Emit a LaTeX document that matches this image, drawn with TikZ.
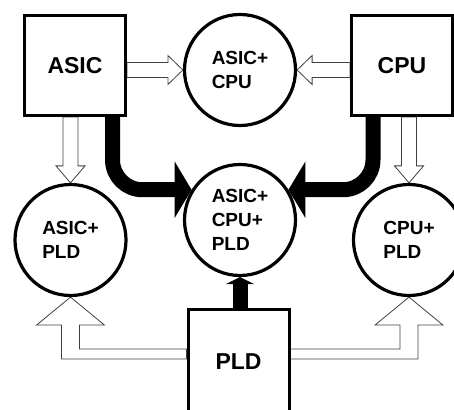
\documentclass[tikz,border=0pt]{standalone}
\usepackage{fontspec}
\setsansfont{Liberation Sans}
\usepackage{tikz}
\usetikzlibrary{arrows.meta,calc,backgrounds}
\tikzset{
  unitbox/.style={draw=black,line width=3pt,fill=white,minimum width=101pt,minimum height=100pt,inner sep=0pt,font=\sffamily\bfseries\fontsize{23}{26}\selectfont},
  combo/.style={circle,draw=black,line width=3.2pt,fill=white,minimum size=111pt,inner sep=0pt,align=left,font=\sffamily\bfseries\fontsize{19}{24}\selectfont},
  hollow/.style={draw=black!75,fill=white,line width=.8pt,line join=miter},
  merge/.style={line width=15pt,rounded corners=30pt,-{Triangle[length=17pt,width=56pt]}},
}

\begin{document}
\begin{tikzpicture}[x=1pt,y=1pt]
  \useasboundingbox (0,0) rectangle (454,409);
  \clip (0,0) rectangle (454,409);
  % single parts
  \node[unitbox] (asic) at (75,343.5) {ASIC};
  \node[unitbox] (cpu) at (402,343.5) {CPU};
  \node[unitbox,minimum height=105pt] (pld) at (238.5,47) {PLD};
  % combinations
  \node[combo] (ac) at (240,339) {ASIC+\\CPU};
  \node[combo] (acp) at (240,189) {ASIC+\\CPU+\\PLD};
  \node[combo] (ap) at (70.5,169) {ASIC+\\PLD};
  \node[combo] (cp) at (409,169) {CPU+\\PLD};
  \begin{scope}[on background layer]
    % hollow arrows into the pairs
    \foreach \src/\dst/\s in {asic.east/ac.west/1,cpu.west/ac.east/-1}{
      \filldraw[hollow] let \p1=(\src), \p2=(\dst) in
        (\x1,\y2+7.5) -- (\x2-15*\s,\y2+7.5) -- (\x2-15*\s,\y2+14.5) -- (\p2)
        -- (\x2-15*\s,\y2-14.5) -- (\x2-15*\s,\y2-7.5) -- (\x1,\y2-7.5) -- cycle;
    }
    \foreach \src/\dst in {asic.south/ap.north,cpu.south/cp.north}{
      \filldraw[hollow] let \p1=(\src), \p2=(\dst) in
        (\x2-7.5,\y1) -- (\x2-7.5,\y2+17) -- (\x2-14.5,\y2+17) -- (\p2)
        -- (\x2+14.5,\y2+17) -- (\x2+7.5,\y2+17) -- (\x2+7.5,\y1) -- cycle;
    }
    \foreach \src/\dst/\s in {pld.west/ap.south/1,pld.east/cp.south/-1}{
      \filldraw[hollow] let \p1=(\src), \p2=(\dst) in
        (\x1,\y1+13) -- (\x2+9*\s,\y1+13) -- (\x2+9*\s,\y2-28) -- (\x2+34*\s,\y2-28) -- (\p2)
        -- (\x2-34*\s,\y2-28) -- (\x2-9*\s,\y2-28) -- (\x2-9*\s,\y1+3) -- (\x1,\y1+3) -- cycle;
    }
    % solid arrows into the triple
    \draw[merge] ([xshift=37.5pt]asic.south) |- (acp.148);
    \draw[merge] ([xshift=-29pt]cpu.south) |- (acp.32);
    \draw[merge,-{Triangle[length=7pt,width=28pt]}] (pld.north -| acp.south) -- (acp.south);
  \end{scope}
\end{tikzpicture}
\end{document}
